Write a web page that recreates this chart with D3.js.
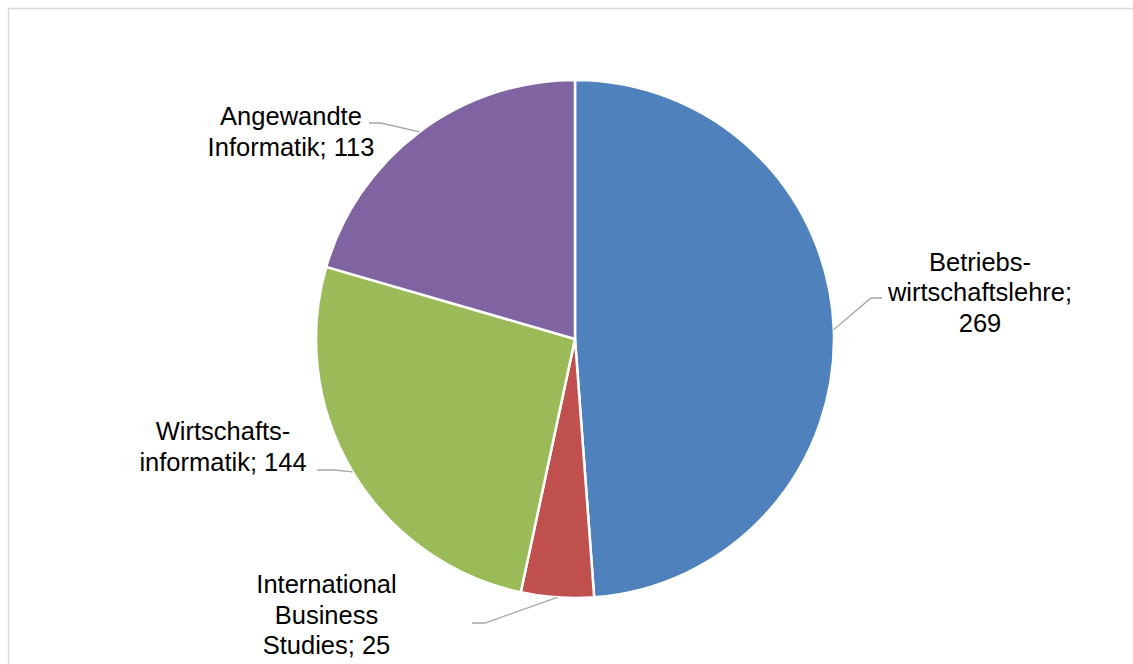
<!DOCTYPE html>
<html>
<head>
<meta charset="utf-8">
<script src="https://cdn.jsdelivr.net/npm/d3@7"></script>
<style>
  html, body { margin: 0; padding: 0; background: #fff; }
  svg { display: block; }
</style>
</head>
<body>
<svg id="chart" width="1133" height="664"></svg>
<script>
// Studierende nach Studiengang
const categories = ["Betriebs-wirtschaftslehre", "International Business Studies", "Wirtschafts-informatik", "Angewandte Informatik"];
const values = [269, 25, 144, 113];
const labelLines = [
  ["Betriebs-", "wirtschaftslehre;", "269"],
  ["International", "Business", "Studies; 25"],
  ["Wirtschafts-", "informatik; 144"],
  ["Angewandte", "Informatik; 113"]
];
const colors = ["#4F81BD", "#C0504D", "#9BBB59", "#8064A2"];

// label placement: text centre x, first baseline y, leader elbow and end
const labelLayout = [
  { x: 980, y: 270.5, elbow: [871, 298], end: [882, 298] },
  { x: 326.5, y: 593, elbow: [485, 623], end: [472, 623] },
  { x: 223, y: 440, elbow: [334, 470], end: [317, 470] },
  { x: 291, y: 125, elbow: [381, 123], end: [369, 123] }
];

const W = 1133, H = 664;
const cx = 575, cy = 339, R = 259;
const lineH = 30.5;

const svg = d3.select("#chart");

// chart area frame
svg.append("rect")
  .attr("x", 8.5).attr("y", 8.5)
  .attr("width", W + 20).attr("height", H + 20)
  .attr("fill", "#fff")
  .attr("stroke", "#d9d9d9")
  .attr("stroke-width", 1.5);

const data = categories.map((c, i) => ({ name: c, value: values[i], lines: labelLines[i], color: colors[i], layout: labelLayout[i] }));

const pie = d3.pie().sort(null).value(d => d.value).startAngle(0).endAngle(2 * Math.PI);
const arcs = pie(data);

const arc = d3.arc().innerRadius(0).outerRadius(R);
const edge = d3.arc().innerRadius(R).outerRadius(R);

const g = svg.append("g").attr("transform", `translate(${cx},${cy})`);

g.selectAll("path.slice")
  .data(arcs)
  .join("path")
  .attr("class", "slice")
  .attr("d", arc)
  .attr("fill", d => d.data.color)
  .attr("stroke", "#fff")
  .attr("stroke-width", 2.5)
  .attr("stroke-linejoin", "round");

// leader lines
svg.selectAll("polyline.leader")
  .data(arcs)
  .join("polyline")
  .attr("class", "leader")
  .attr("fill", "none")
  .attr("stroke", "#a6a6a6")
  .attr("stroke-width", 1.3)
  .attr("points", d => {
    const p = edge.centroid(d);
    const L = d.data.layout;
    return [[cx + p[0], cy + p[1]], L.elbow, L.end].map(q => q.join(",")).join(" ");
  });

// labels
const labels = svg.selectAll("text.label")
  .data(arcs)
  .join("text")
  .attr("class", "label")
  .attr("text-anchor", "middle")
  .attr("font-family", "'Liberation Sans', Arial, sans-serif")
  .attr("font-size", 25.5)
  .attr("fill", "#000");

labels.each(function(d) {
  const L = d.data.layout;
  d3.select(this).selectAll("tspan")
    .data(d.data.lines)
    .join("tspan")
    .attr("x", L.x)
    .attr("y", (t, i) => L.y + i * lineH)
    .text(t => t);
});
</script>
</body>
</html>
